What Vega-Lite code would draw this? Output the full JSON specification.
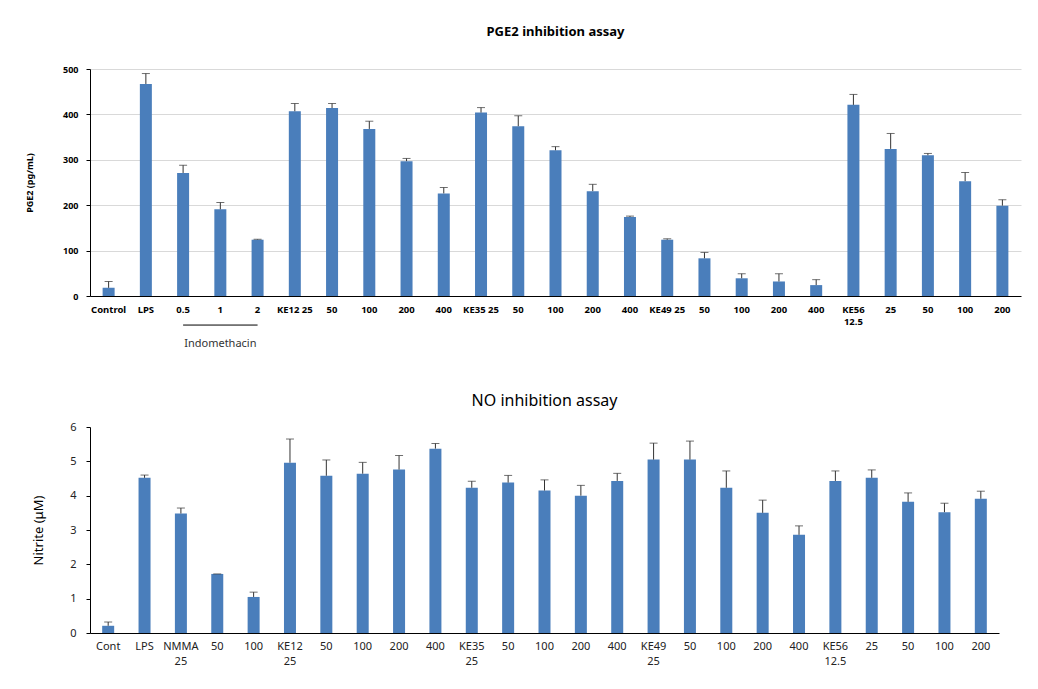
{
  "$schema": "https://vega.github.io/schema/vega-lite/v6.json",
  "background": "white",
  "padding": {"left": 25, "top": 26, "right": 10, "bottom": 5},
  "spacing": 43,
  "config": {
    "view": {"stroke": null},
    "font": "Noto Sans",
    "axis": {"domainColor": "#000000", "labelColor": "#000000", "titleColor": "#000000"}
  },
  "datasets": {
    "pge2": [
      {"k": "01|Control", "value": 18, "err": 32},
      {"k": "02|LPS", "value": 467, "err": 490},
      {"k": "03|0.5", "value": 271, "err": 288},
      {"k": "04|1", "value": 191, "err": 206},
      {"k": "05|2", "value": 124, "err": 125},
      {"k": "06|KE12 25", "value": 407, "err": 424},
      {"k": "07|50", "value": 414, "err": 424},
      {"k": "08|100", "value": 368, "err": 385},
      {"k": "09|200", "value": 297, "err": 303},
      {"k": "10|400", "value": 226, "err": 239},
      {"k": "11|KE35 25", "value": 404, "err": 415},
      {"k": "12|50", "value": 374, "err": 397},
      {"k": "13|100", "value": 321, "err": 329},
      {"k": "14|200", "value": 231, "err": 246},
      {"k": "15|400", "value": 174, "err": 176},
      {"k": "16|KE49 25", "value": 124, "err": 126},
      {"k": "17|50", "value": 83, "err": 96},
      {"k": "18|100", "value": 39, "err": 49},
      {"k": "19|200", "value": 32, "err": 49},
      {"k": "20|400", "value": 24, "err": 36},
      {"k": "21|KE56~12.5", "value": 421, "err": 444},
      {"k": "22|25", "value": 324, "err": 358},
      {"k": "23|50", "value": 310, "err": 314},
      {"k": "24|100", "value": 253, "err": 272},
      {"k": "25|200", "value": 199, "err": 212}
    ],
    "no": [
      {"k": "01|Cont", "value": 0.21, "err": 0.32},
      {"k": "02|LPS", "value": 4.52, "err": 4.60},
      {"k": "03|NMMA~25", "value": 3.48, "err": 3.64},
      {"k": "04|50", "value": 1.72, "err": 1.72},
      {"k": "05|100", "value": 1.05, "err": 1.19},
      {"k": "06|KE12~25", "value": 4.96, "err": 5.65},
      {"k": "07|50", "value": 4.58, "err": 5.04},
      {"k": "08|100", "value": 4.64, "err": 4.97},
      {"k": "09|200", "value": 4.76, "err": 5.17},
      {"k": "10|400", "value": 5.37, "err": 5.52},
      {"k": "11|KE35~25", "value": 4.23, "err": 4.42},
      {"k": "12|50", "value": 4.38, "err": 4.59},
      {"k": "13|100", "value": 4.15, "err": 4.46},
      {"k": "14|200", "value": 4.00, "err": 4.30},
      {"k": "15|400", "value": 4.43, "err": 4.65},
      {"k": "16|KE49~25", "value": 5.05, "err": 5.53},
      {"k": "17|50", "value": 5.05, "err": 5.59},
      {"k": "18|100", "value": 4.23, "err": 4.72},
      {"k": "19|200", "value": 3.50, "err": 3.87},
      {"k": "20|400", "value": 2.86, "err": 3.12},
      {"k": "21|KE56~12.5", "value": 4.43, "err": 4.72},
      {"k": "22|25", "value": 4.52, "err": 4.75},
      {"k": "23|50", "value": 3.82, "err": 4.08},
      {"k": "24|100", "value": 3.52, "err": 3.78},
      {"k": "25|200", "value": 3.91, "err": 4.13}
    ]
  },
  "vconcat": [
    {
      "width": 931,
      "height": 227,
      "title": {"text": "PGE2 inhibition assay", "fontSize": 13, "fontWeight": "bold", "color": "#000000", "offset": 26},
      "layer": [
        {
          "data": {"name": "pge2"},
          "mark": {"type": "bar", "color": "#4a7ebb", "size": 12},
          "encoding": {
            "x": {
              "field": "k", "type": "nominal", "title": null,
              "axis": {"labelExpr": "split(split(datum.value, '|')[1], '~')", "labelAngle": 0, "ticks": false, "labelFontSize": 9.5, "labelFontWeight": "bold", "labelPadding": 8, "labelLineHeight": 12, "labelOverlap": false}
            },
            "y": {
              "field": "value", "type": "quantitative", "title": "PGE2 (pg/mL)",
              "scale": {"domain": [0, 500], "nice": false},
              "axis": {
                "values": [0, 50, 100, 150, 200, 250, 300, 350, 400, 450, 500],
                "labelExpr": "datum.value % 100 == 0 ? datum.label : ''",
                "labelOverlap": false,
                "grid": true,
                "gridColor": "#d9d9d9",
                "gridOpacity": {"condition": {"test": "datum.value % 100 == 0 && datum.value > 0", "value": 1}, "value": 0},
                "tickSize": 4, "tickColor": "#000000",
                "labelFontSize": 9, "labelFontWeight": "bold", "labelPadding": 8,
                "titleFontSize": 9, "titleFontWeight": "bold", "titlePadding": 28
              }
            }
          }
        },
        {
          "data": {"name": "pge2"},
          "mark": {"type": "rule", "color": "#333333", "strokeWidth": 1},
          "encoding": {
            "x": {"field": "k", "type": "nominal", "title": null},
            "y": {
              "field": "value", "type": "quantitative", "title": "PGE2 (pg/mL)",
              "axis": {
                "values": [0, 50, 100, 150, 200, 250, 300, 350, 400, 450, 500],
                "labelExpr": "datum.value % 100 == 0 ? datum.label : ''",
                "labelOverlap": false,
                "grid": true,
                "gridColor": "#d9d9d9",
                "gridOpacity": {"condition": {"test": "datum.value % 100 == 0 && datum.value > 0", "value": 1}, "value": 0},
                "tickSize": 4, "tickColor": "#000000",
                "labelFontSize": 9, "labelFontWeight": "bold", "labelPadding": 8,
                "titleFontSize": 9, "titleFontWeight": "bold", "titlePadding": 28
              }
            },
            "y2": {"field": "err"}
          }
        },
        {
          "data": {"name": "pge2"},
          "mark": {"type": "tick", "color": "#333333", "thickness": 1, "size": 8},
          "encoding": {
            "x": {"field": "k", "type": "nominal", "title": null},
            "y": {
              "field": "err", "type": "quantitative", "title": "PGE2 (pg/mL)",
              "axis": {
                "values": [0, 50, 100, 150, 200, 250, 300, 350, 400, 450, 500],
                "labelExpr": "datum.value % 100 == 0 ? datum.label : ''",
                "labelOverlap": false,
                "grid": true,
                "gridColor": "#d9d9d9",
                "gridOpacity": {"condition": {"test": "datum.value % 100 == 0 && datum.value > 0", "value": 1}, "value": 0},
                "tickSize": 4, "tickColor": "#000000",
                "labelFontSize": 9, "labelFontWeight": "bold", "labelPadding": 8,
                "titleFontSize": 9, "titleFontWeight": "bold", "titlePadding": 28
              }
            }
          }
        },
        {
          "data": {"values": [{}]},
          "mark": {"type": "rule", "color": "#000000", "strokeWidth": 1},
          "encoding": {"x": {"datum": "03|0.5"}, "x2": {"datum": "05|2"}, "y": {"datum": -64}}
        },
        {
          "data": {"values": [{}]},
          "mark": {"type": "text", "fontSize": 11, "color": "#333333", "baseline": "middle"},
          "encoding": {"x": {"datum": "04|1"}, "y": {"datum": -106}, "text": {"value": "Indomethacin"}}
        }
      ]
    },
    {
      "width": 909,
      "height": 206,
      "title": {"text": "NO inhibition assay", "fontSize": 16, "fontWeight": "normal", "color": "#000000", "offset": 12},
      "layer": [
        {
          "data": {"name": "no"},
          "mark": {"type": "bar", "color": "#4a7ebb", "size": 12},
          "encoding": {
            "x": {
              "field": "k", "type": "nominal", "title": null,
              "axis": {"labelExpr": "split(split(datum.value, '|')[1], '~')", "labelAngle": 0, "ticks": false, "labelFontSize": 11, "labelPadding": 7, "labelColor": "#222222", "labelLineHeight": 15, "labelOverlap": false}
            },
            "y": {
              "field": "value", "type": "quantitative", "title": "Nitrite (μM)",
              "scale": {"domain": [0, 6], "nice": false},
              "axis": {
                "values": [0, 1, 2, 3, 4, 5, 6],
                "labelOverlap": false,
                "grid": false,
                "tickSize": 4, "tickColor": "#000000",
                "labelFontSize": 11, "labelPadding": 10, "labelColor": "#222222",
                "titleFontSize": 13, "titleFontWeight": "normal", "titlePadding": 24
              }
            }
          }
        },
        {
          "data": {"name": "no"},
          "mark": {"type": "rule", "color": "#333333", "strokeWidth": 1},
          "encoding": {
            "x": {"field": "k", "type": "nominal", "title": null},
            "y": {
              "field": "value", "type": "quantitative", "title": "Nitrite (μM)",
              "axis": {
                "values": [0, 1, 2, 3, 4, 5, 6],
                "labelOverlap": false,
                "grid": false,
                "tickSize": 4, "tickColor": "#000000",
                "labelFontSize": 11, "labelPadding": 10, "labelColor": "#222222",
                "titleFontSize": 13, "titleFontWeight": "normal", "titlePadding": 24
              }
            },
            "y2": {"field": "err"}
          }
        },
        {
          "data": {"name": "no"},
          "mark": {"type": "tick", "color": "#333333", "thickness": 1, "size": 8},
          "encoding": {
            "x": {"field": "k", "type": "nominal", "title": null},
            "y": {
              "field": "err", "type": "quantitative", "title": "Nitrite (μM)",
              "axis": {
                "values": [0, 1, 2, 3, 4, 5, 6],
                "labelOverlap": false,
                "grid": false,
                "tickSize": 4, "tickColor": "#000000",
                "labelFontSize": 11, "labelPadding": 10, "labelColor": "#222222",
                "titleFontSize": 13, "titleFontWeight": "normal", "titlePadding": 24
              }
            }
          }
        }
      ]
    }
  ]
}
